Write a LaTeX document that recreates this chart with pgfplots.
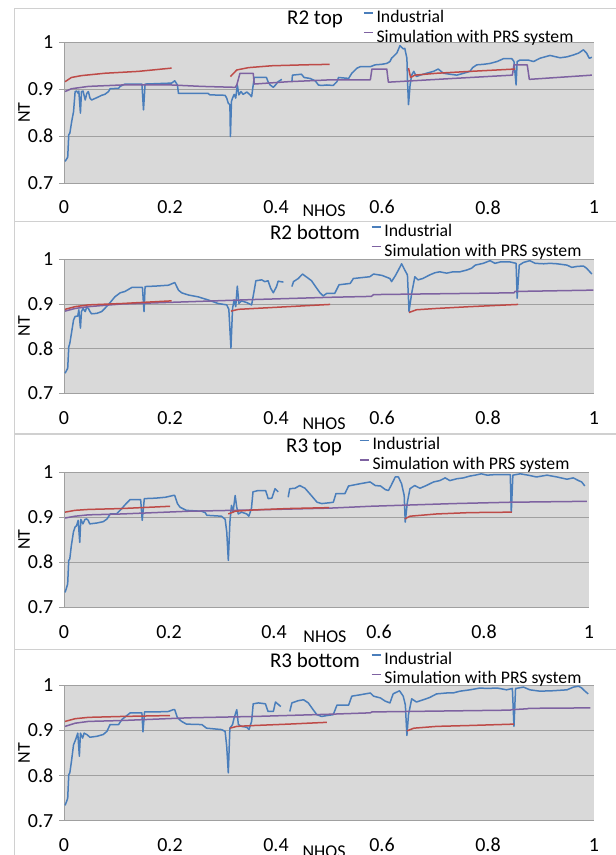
\documentclass[border=0pt]{standalone}
\usepackage{fontspec}
\setmainfont{Carlito}
\usepackage{pgfplots}
\pgfplotsset{compat=1.18}

\definecolor{indblue}{HTML}{4A7EBB}
\definecolor{simpurple}{HTML}{7E62A1}
\definecolor{simred}{HTML}{BE4B48}
\definecolor{plotbg}{HTML}{D9D9D9}
\definecolor{gridc}{HTML}{A0A0A0}
\definecolor{framec}{HTML}{D0D0D0}

\newcommand{\tickfont}{\fontsize{20}{20}\selectfont}
\newcommand{\labfont}{\fontsize{18}{18}\selectfont}
\newcommand{\legfont}{\fontsize{17.7}{18}\selectfont}
\newcommand{\titfont}{\fontsize{21}{21}\selectfont}

\pgfplotsset{
  panel/.style={
    scale only axis,
    xmin=0, xmax=1, ymin=0.7, ymax=1,
    axis lines*=left,
    axis line style={gridc, line width=0.8pt},
    axis background/.style={fill=plotbg},
    xtick={0,0.2,0.4,0.6,0.8,1},
    xticklabels={0,0.2,0.4,0.6,0.8,1},
    ytick={0.7,0.8,0.9,1},
    yticklabels={0.7,0.8,0.9,1},
    ymajorgrids,
    grid style={gridc, line width=0.8pt},
    tick align=outside,
    major tick length=5pt,
    xtick style={draw=none},
    ytick style={gridc, line width=0.8pt},
    ticklabel style={font=\tickfont},
    xticklabel style={anchor=center, yshift=-19.3pt},
    yticklabel style={anchor=east, inner sep=0pt, xshift=-5.5pt},
    xlabel={NHOS}, ylabel={NT},
    label style={font=\labfont},
    ylabel style={anchor=center, rotate=0},
    xlabel style={anchor=center},
    title style={font=\titfont, anchor=center},
    unbounded coords=jump,
    legend cell align=left,
    legend image code/.code={\draw[#1] (0pt,5.6pt) -- (9pt,5.6pt);},
    legend style={draw=none, fill=none, inner sep=0pt, outer sep=0pt,
      row sep=0pt, column sep=3pt, font=\legfont, anchor=north west,
      nodes={inner sep=0pt, text height=13.5pt, text depth=6pt}},
  },
  ind/.style={indblue, line width=1.5pt, line join=round},
  sim/.style={simpurple, line width=1.5pt, line join=round},
  alt/.style={simred, line width=1.5pt, line join=round},
}

\begin{document}
\begin{tikzpicture}
\useasboundingbox (0pt,0pt) rectangle (616pt,-855pt);
\fill[white] (0pt,0pt) rectangle (616pt,-855pt);

% chart frames
\draw[framec, line width=0.8pt] (14pt,-8pt) rectangle (640pt,-221pt);
\draw[framec, line width=0.8pt] (14pt,-221pt) rectangle (640pt,-433pt);
\draw[framec, line width=0.8pt] (14pt,-434pt) rectangle (640pt,-649pt);
\draw[framec, line width=0.8pt] (14pt,-649pt) rectangle (640pt,-880pt);

% ---------------- R2 top ----------------
\begin{axis}[panel, at={(64pt,-183pt)}, anchor=south west,
  width=530pt, height=140.7pt,
  title={R2 top}, title style={at={(axis description cs:0.4736,1.123)}},
  xlabel style={at={(axis description cs:0.4906,-0.199)}},
  ylabel style={at={(axis description cs:-0.0755,0.5)}},
  legend style={at={(axis description cs:0.5642,1.2367)}}]
\addplot[ind] coordinates {
(0.002,0.746)(0.007,0.755)(0.009,0.803)(0.011,0.806)(0.0145,0.831)(0.018,0.852)(0.021,0.895)(0.024,0.896)(0.027,0.891)(0.028,0.896)(0.031,0.849)(0.033,0.895)(0.036,0.896)(0.040,0.877)(0.043,0.891)(0.046,0.895)(0.049,0.881)(0.052,0.877)(0.062,0.882)(0.071,0.887)(0.077,0.889)(0.084,0.895)(0.087,0.901)(0.103,0.902)(0.106,0.906)(0.115,0.911)(0.147,0.911)(0.150,0.856)(0.153,0.911)(0.203,0.913)(0.209,0.918)(0.214,0.909)(0.216,0.891)(0.272,0.891)(0.275,0.888)(0.304,0.887)(0.307,0.881)(0.310,0.870)(0.313,0.867)(0.314,0.799)(0.316,0.874)(0.318,0.881)(0.321,0.889)(0.324,0.881)(0.327,0.909)(0.330,0.888)(0.334,0.895)(0.338,0.889)(0.345,0.894)(0.351,0.888)(0.354,0.884)(0.357,0.909)(0.359,0.925)(0.382,0.925)(0.385,0.916)(0.389,0.909)(0.395,0.904)(0.399,0.909)(0.404,0.916)(0.411,0.921)(0.420,nan)(0.430,0.916)(0.431,0.930)(0.448,0.932)(0.453,0.925)(0.464,0.923)(0.474,0.918)(0.480,0.909)(0.486,0.908)(0.496,0.909)(0.508,0.908)(0.515,0.916)(0.518,0.925)(0.537,0.923)(0.543,0.934)(0.553,0.945)(0.559,0.948)(0.578,0.948)(0.587,0.952)(0.599,0.953)(0.609,0.955)(0.615,0.959)(0.618,0.966)(0.628,0.977)(0.634,0.993)(0.640,0.986)(0.643,0.987)(0.647,0.966)(0.648,0.923)(0.650,0.867)(0.653,0.909)(0.656,0.930)(0.660,0.938)(0.665,0.927)(0.672,0.930)(0.684,0.934)(0.697,0.938)(0.706,0.943)(0.716,0.934)(0.728,0.932)(0.741,0.930)(0.754,0.934)(0.766,0.938)(0.771,0.946)(0.779,0.952)(0.791,0.953)(0.804,0.955)(0.817,0.959)(0.829,0.965)(0.845,0.965)(0.849,0.959)(0.853,0.909)(0.855,0.959)(0.860,0.962)(0.876,0.962)(0.886,0.959)(0.898,0.966)(0.917,0.972)(0.936,0.967)(0.949,0.969)(0.961,0.973)(0.971,0.977)(0.980,0.984)(0.986,0.977)(0.991,0.966)(0.996,0.968)
};
\addlegendentry{Industrial}
\addplot[sim] coordinates {
(0.002,0.895)(0.014,0.901)(0.046,0.906)(0.109,0.909)(0.203,0.909)(0.260,0.906)(0.323,0.904)(0.326,0.909)(0.332,0.934)(0.357,0.934)(0.359,0.911)(0.423,0.916)(0.503,0.920)(0.578,0.920)(0.581,0.943)(0.609,0.943)(0.612,0.915)(0.735,0.923)(0.846,0.930)(0.849,0.952)(0.874,0.952)(0.878,0.921)(0.996,0.930)
};
\addlegendentry{Simulation with PRS system}
\addplot[alt, forget plot] coordinates {
(0.002,0.916)(0.014,0.925)(0.033,0.929)(0.077,0.934)(0.140,0.938)(0.203,0.945)(0.25,nan)(0.314,0.927)(0.326,0.941)(0.348,0.946)(0.392,0.950)(0.455,0.952)(0.501,0.953)(0.57,nan)(0.650,0.945)(0.654,0.925)(0.662,0.930)(0.703,0.934)(0.766,0.938)(0.851,0.943)
};
\end{axis}

% ---------------- R2 bottom ----------------
\begin{axis}[panel, at={(64pt,-393.3pt)}, anchor=south west,
  width=530pt, height=134pt,
  title={R2 bottom}, title style={at={(axis description cs:0.4736,1.1567)}},
  xlabel style={at={(axis description cs:0.4906,-0.224)}},
  ylabel style={at={(axis description cs:-0.0755,0.5)}},
  legend style={at={(axis description cs:0.5792,1.2709)}}]
\addplot[ind] coordinates {
(0.002,0.745)(0.007,0.756)(0.009,0.804)(0.011,0.812)(0.014,0.834)(0.018,0.864)(0.021,0.872)(0.026,0.873)(0.028,0.887)(0.031,0.846)(0.033,0.883)(0.036,0.890)(0.040,0.883)(0.043,0.893)(0.046,0.890)(0.049,0.883)(0.052,0.878)(0.062,0.879)(0.071,0.883)(0.077,0.890)(0.087,0.903)(0.096,0.916)(0.106,0.925)(0.115,0.928)(0.128,0.937)(0.148,0.937)(0.151,0.883)(0.153,0.939)(0.172,0.940)(0.197,0.942)(0.209,0.948)(0.216,0.931)(0.222,0.925)(0.235,0.920)(0.253,0.916)(0.272,0.909)(0.291,0.901)(0.307,0.898)(0.311,0.888)(0.315,0.801)(0.318,0.890)(0.321,0.909)(0.324,0.894)(0.327,0.940)(0.330,0.901)(0.335,0.907)(0.345,0.903)(0.354,0.898)(0.359,0.931)(0.362,0.952)(0.373,0.954)(0.379,0.950)(0.385,0.952)(0.390,0.935)(0.395,0.925)(0.401,0.939)(0.404,0.951)(0.414,0.949)(0.422,nan)(0.430,0.939)(0.433,0.950)(0.442,0.957)(0.450,0.967)(0.458,0.960)(0.467,0.952)(0.474,0.940)(0.483,0.925)(0.489,0.918)(0.496,0.924)(0.511,0.924)(0.519,0.943)(0.540,0.946)(0.546,0.957)(0.577,0.961)(0.584,0.967)(0.600,0.964)(0.615,0.957)(0.618,0.950)(0.625,0.963)(0.631,0.976)(0.637,0.990)(0.643,0.976)(0.648,0.965)(0.651,0.883)(0.656,0.924)(0.662,0.961)(0.668,0.954)(0.677,0.957)(0.690,0.965)(0.700,0.970)(0.709,0.972)(0.722,0.969)(0.734,0.972)(0.747,0.972)(0.760,0.976)(0.769,0.980)(0.776,0.987)(0.791,0.991)(0.804,0.997)(0.813,0.991)(0.823,0.994)(0.842,0.994)(0.853,0.991)(0.855,0.913)(0.859,0.987)(0.867,0.993)(0.879,0.997)(0.889,0.991)(0.905,0.990)(0.917,0.991)(0.930,0.990)(0.949,0.987)(0.958,0.982)(0.968,0.984)(0.980,0.985)(0.986,0.980)(0.996,0.967)
};
\addlegendentry{Industrial}
\addplot[sim] coordinates {
(0.002,0.884)(0.021,0.890)(0.046,0.894)(0.109,0.900)(0.235,0.905)(0.360,0.910)(0.503,0.915)(0.580,0.917)(0.584,0.921)(0.849,0.925)(0.851,0.928)(0.999,0.931)
};
\addlegendentry{Simulation with PRS system}
\addplot[alt, forget plot] coordinates {
(0.002,0.888)(0.021,0.894)(0.046,0.898)(0.109,0.901)(0.203,0.907)(0.25,nan)(0.315,0.884)(0.329,0.888)(0.360,0.890)(0.423,0.894)(0.502,0.899)(0.57,nan)(0.651,0.881)(0.665,0.887)(0.703,0.890)(0.766,0.894)(0.857,0.899)
};
\end{axis}

% ---------------- R3 top ----------------
\begin{axis}[panel, at={(64pt,-607.3pt)}, anchor=south west,
  width=525pt, height=135.3pt,
  title={R3 top}, title style={at={(axis description cs:0.4762,1.1382)}},
  xlabel style={at={(axis description cs:0.4971,-0.217)}},
  ylabel style={at={(axis description cs:-0.0762,0.5)}},
  legend style={at={(axis description cs:0.5619,1.2639)}}]
\addplot[ind] coordinates {
(0.002,0.733)(0.005,0.744)(0.007,0.752)(0.009,0.804)(0.011,0.807)(0.014,0.837)(0.018,0.867)(0.021,0.878)(0.024,0.881)(0.027,0.893)(0.030,0.844)(0.032,0.895)(0.036,0.885)(0.040,0.895)(0.043,0.896)(0.046,0.893)(0.049,0.885)(0.063,0.887)(0.075,0.890)(0.082,0.896)(0.088,0.907)(0.100,0.907)(0.110,0.919)(0.116,0.927)(0.126,0.939)(0.146,0.939)(0.149,0.893)(0.153,0.941)(0.174,0.942)(0.193,0.944)(0.208,0.948)(0.211,0.948)(0.216,0.930)(0.221,0.922)(0.233,0.915)(0.262,0.913)(0.269,0.910)(0.272,0.904)(0.300,0.902)(0.307,0.895)(0.310,0.867)(0.313,0.804)(0.316,0.889)(0.319,0.926)(0.322,0.911)(0.326,0.948)(0.329,0.922)(0.332,0.907)(0.338,0.911)(0.348,0.907)(0.352,0.902)(0.357,0.919)(0.360,0.956)(0.370,0.959)(0.384,0.959)(0.389,0.941)(0.396,0.942)(0.402,0.963)(0.408,0.956)(0.416,nan)(0.427,0.944)(0.430,0.963)(0.440,0.964)(0.449,0.970)(0.459,0.964)(0.471,0.948)(0.482,0.933)(0.491,0.930)(0.507,0.932)(0.513,0.933)(0.518,0.952)(0.535,0.952)(0.542,0.969)(0.564,0.974)(0.583,0.978)(0.593,0.970)(0.603,0.969)(0.612,0.961)(0.618,0.959)(0.623,0.970)(0.631,0.989)(0.637,0.989)(0.643,0.974)(0.648,0.948)(0.650,0.889)(0.654,0.933)(0.659,0.963)(0.668,0.970)(0.678,0.964)(0.690,0.970)(0.704,0.978)(0.716,0.981)(0.726,0.987)(0.735,0.981)(0.748,0.985)(0.761,0.987)(0.773,0.991)(0.783,0.993)(0.795,0.996)(0.806,0.993)(0.818,0.994)(0.834,0.994)(0.850,0.994)(0.852,0.911)(0.855,0.993)(0.869,0.996)(0.884,0.993)(0.900,0.989)(0.920,0.993)(0.939,0.989)(0.958,0.984)(0.970,0.987)(0.980,0.981)(0.986,0.978)(0.992,0.969)
};
\addlegendentry{Industrial}
\addplot[sim] coordinates {
(0.002,0.898)(0.021,0.902)(0.046,0.905)(0.110,0.907)(0.237,0.913)(0.363,0.916)(0.508,0.920)(0.583,0.924)(0.742,0.930)(0.850,0.933)(0.996,0.935)
};
\addlegendentry{Simulation with PRS system}
\addplot[alt, forget plot] coordinates {
(0.002,0.911)(0.021,0.915)(0.046,0.917)(0.110,0.919)(0.202,0.924)(0.25,nan)(0.313,0.907)(0.326,0.913)(0.363,0.916)(0.427,0.919)(0.505,0.921)(0.57,nan)(0.649,0.896)(0.659,0.902)(0.710,0.907)(0.773,0.910)(0.853,0.911)
};
\end{axis}

% ---------------- R3 bottom ----------------
\begin{axis}[panel, at={(64pt,-820.7pt)}, anchor=south west,
  width=530pt, height=135.4pt,
  title={R3 bottom}, title style={at={(axis description cs:0.4736,1.1374)}},
  xlabel style={at={(axis description cs:0.4906,-0.229)}},
  ylabel style={at={(axis description cs:-0.0755,0.5)}},
  legend style={at={(axis description cs:0.5792,1.2563)}}]
\addplot[ind] coordinates {
(0.002,0.734)(0.005,0.743)(0.007,0.750)(0.009,0.802)(0.011,0.806)(0.014,0.831)(0.018,0.868)(0.022,0.880)(0.026,0.894)(0.029,0.843)(0.031,0.894)(0.035,0.883)(0.038,0.894)(0.043,0.891)(0.049,0.885)(0.062,0.887)(0.074,0.891)(0.081,0.898)(0.087,0.913)(0.103,0.913)(0.109,0.924)(0.125,0.939)(0.147,0.939)(0.149,0.897)(0.152,0.941)(0.172,0.941)(0.197,0.942)(0.206,0.946)(0.209,0.946)(0.214,0.928)(0.222,0.920)(0.231,0.914)(0.260,0.913)(0.269,0.905)(0.297,0.902)(0.304,0.898)(0.307,0.865)(0.310,0.806)(0.313,0.905)(0.318,0.913)(0.321,0.928)(0.326,0.946)(0.329,0.913)(0.335,0.909)(0.345,0.907)(0.349,0.902)(0.354,0.920)(0.357,0.959)(0.367,0.961)(0.380,0.959)(0.385,0.942)(0.395,0.942)(0.399,0.963)(0.409,0.953)(0.418,nan)(0.426,0.942)(0.430,0.961)(0.442,0.966)(0.452,0.968)(0.461,0.961)(0.470,0.946)(0.477,0.935)(0.486,0.931)(0.496,0.933)(0.508,0.935)(0.515,0.956)(0.537,0.956)(0.543,0.976)(0.559,0.979)(0.578,0.983)(0.584,0.976)(0.597,0.972)(0.606,0.965)(0.615,0.961)(0.621,0.981)(0.633,0.988)(0.640,0.976)(0.644,0.957)(0.647,0.889)(0.650,0.935)(0.656,0.970)(0.665,0.963)(0.678,0.968)(0.690,0.973)(0.703,0.981)(0.722,0.983)(0.734,0.983)(0.747,0.987)(0.766,0.990)(0.785,0.994)(0.798,0.993)(0.817,0.994)(0.835,0.990)(0.846,0.993)(0.849,0.909)(0.852,0.993)(0.867,0.996)(0.879,0.990)(0.898,0.987)(0.923,0.988)(0.949,0.990)(0.961,0.996)(0.971,0.998)(0.977,0.994)(0.983,0.987)(0.989,0.981)
};
\addlegendentry{Industrial}
\addplot[sim] coordinates {
(0.002,0.909)(0.021,0.916)(0.046,0.920)(0.109,0.922)(0.235,0.928)(0.360,0.931)(0.503,0.936)(0.578,0.939)(0.581,0.941)(0.842,0.945)(0.845,0.946)(0.874,0.948)(0.877,0.949)(0.993,0.950)
};
\addlegendentry{Simulation with PRS system}
\addplot[alt, forget plot] coordinates {
(0.002,0.920)(0.021,0.926)(0.046,0.929)(0.109,0.931)(0.200,0.933)(0.25,nan)(0.313,0.905)(0.326,0.909)(0.360,0.911)(0.423,0.914)(0.496,0.918)(0.57,nan)(0.647,0.899)(0.660,0.905)(0.703,0.909)(0.766,0.911)(0.849,0.914)
};
\end{axis}
\end{tikzpicture}
\end{document}
